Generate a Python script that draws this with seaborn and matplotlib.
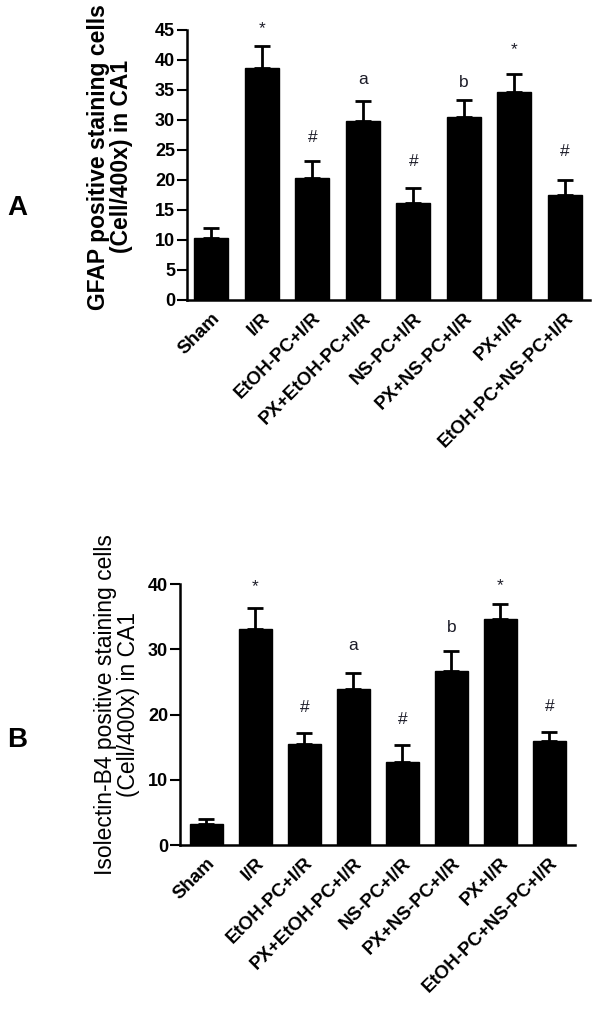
import numpy as np
import pandas as pd
import matplotlib
matplotlib.use("Agg")
import matplotlib.pyplot as plt
import seaborn as sns

groups = ["Sham", "I/R", "EtOH-PC+I/R", "PX+EtOH-PC+I/R", "NS-PC+I/R",
          "PX+NS-PC+I/R", "PX+I/R", "EtOH-PC+NS-PC+I/R"]
gfap_mean = [10.3, 38.6, 20.4, 29.8, 16.2, 30.5, 34.7, 17.5]
gfap_sem = [1.7, 3.7, 2.8, 3.4, 2.5, 2.8, 2.9, 2.5]
iso_mean = [3.2, 33.1, 15.5, 23.9, 12.7, 26.7, 34.6, 15.9]
iso_sem = [0.8, 3.2, 1.7, 2.5, 2.6, 3.0, 2.3, 1.4]
marks = ["", "*", "#", "a", "#", "b", "*", "#"]
gfap_mark_y = [None, 45.3, 27.0, 36.7, 23.0, 36.3, 41.7, 24.7]
iso_mark_y = [None, 39.6, 21.0, 30.6, 19.3, 33.4, 39.8, 21.2]
gfap_ticks = [0, 5, 10, 15, 20, 25, 30, 35, 40, 45]
iso_ticks = [0, 10, 20, 30, 40]

sns.set_style("ticks")
plt.rcParams['font.family'] = ['Liberation Sans', 'DejaVu Sans']
for k in ["text.color", "axes.labelcolor", "xtick.color", "ytick.color",
          "axes.edgecolor"]:
    plt.rcParams[k] = "black"

fig = plt.figure(figsize=(6.01, 10.09), dpi=100)
axA = fig.add_axes([0.311, 0.7027, 0.671, 0.2676])
axB = fig.add_axes([0.2995, 0.1625, 0.657, 0.2587])


def panel(ax, mean, sem, mark_y, ticks, ylabel, ylim, xlim, label_bold,
          label_size, label_xy):
    df = pd.DataFrame({"group": groups, "value": mean})
    sns.barplot(data=df, x="group", y="value", color="black", width=0.67,
                saturation=1, errorbar=None, ax=ax, edgecolor="black")
    x = np.arange(len(groups))
    ax.errorbar(x, mean, yerr=[np.zeros(len(sem)), sem], fmt="none",
                ecolor="black", elinewidth=2, capsize=6, capthick=2)
    for xi, m, yv in zip(x, marks, mark_y):
        if m:
            ax.text(xi, yv, m, ha="center", va="center", fontsize=12.5,
                    color="#1c1c28")
    ax.set_ylim(*ylim)
    ax.set_xlim(*xlim)
    ax.set_yticks(ticks)
    ax.set_yticklabels([str(t) for t in ticks], fontsize=13, fontweight="bold")
    ax.set_xticks(x)
    ax.set_xticklabels(groups, rotation=45, ha="right", rotation_mode="anchor",
                       fontsize=13.5, fontweight="bold")
    ax.tick_params(axis="x", length=0, pad=7)
    ax.tick_params(axis="y", length=7, width=1.5, pad=1.5)
    ax.set_xlabel("")
    ax.set_ylabel(ylabel, fontsize=label_size,
                  fontweight="bold" if label_bold else "normal",
                  linespacing=1.0)
    ax.yaxis.set_label_coords(*label_xy)
    for s in ["top", "right"]:
        ax.spines[s].set_visible(False)
    for s in ["left", "bottom"]:
        ax.spines[s].set_linewidth(1.8)


panel(axA, gfap_mean, gfap_sem, gfap_mark_y, gfap_ticks,
      "GFAP positive staining cells\n(Cell/400x) in CA1", (0, 45), (-0.48, 7.5),
      True, 16.5, (-0.134, 0.53))
panel(axB, iso_mean, iso_sem, iso_mark_y, iso_ticks,
      "Isolectin-B4 positive staining cells\n(Cell/400x) in CA1", (0, 40), (-0.54, 7.52),
      False, 16.5, (-0.101, 0.54))

fig.text(17 / 601, 1 - 208 / 1009, "A", fontsize=20, fontweight="bold",
         ha="center", va="center")
fig.text(17 / 601, 1 - 740 / 1009, "B", fontsize=20, fontweight="bold",
         ha="center", va="center")

fig.savefig("out.png", dpi=100, facecolor="white")
